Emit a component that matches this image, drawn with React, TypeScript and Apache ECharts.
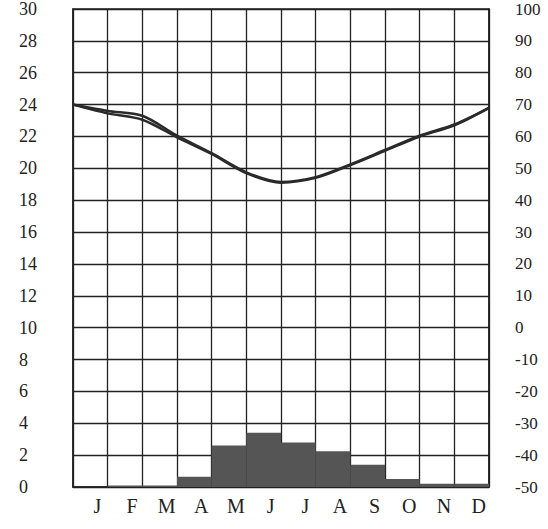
import React, { useEffect, useRef } from "react";
import * as echarts from "echarts";

const months = ["J", "F", "M", "A", "M", "J", "J", "A", "S", "O", "N", "D"];
const precipitation = [0, 0.1, 0.1, 0.65, 2.6, 3.4, 2.8, 2.25, 1.4, 0.5, 0.2, 0.2];
// temperature curve read at month boundaries (start of Jan ... end of Dec)
const tempLineA = [24.0, 23.45, 23.05, 21.95, 20.9, 19.7, 19.1, 19.4, 20.2, 21.1, 22.0, 22.7, 23.8];
const tempLineB = [24.0, 23.6, 23.3, 22.05, 20.95, 19.75, 19.15, 19.45, 20.25, 21.15, 22.05, 22.75, 23.8];
const leftAxis = { min: 0, max: 30, interval: 2 };
const rightAxis = { min: -50, max: 100, interval: 10 };

const ink = "#222222";
const font = "'Liberation Serif', 'DejaVu Serif', serif";

export default function App() {
  const ref = useRef<HTMLDivElement>(null);
  useEffect(() => {
    if (!ref.current) return;
    const chart = echarts.init(ref.current, null, { renderer: "svg" });
    chart.setOption({
      animation: false,
      backgroundColor: "#ffffff",
      grid: {
        left: 73,
        right: 59,
        top: 5,
        bottom: 42,
        show: true,
        borderColor: ink,
        borderWidth: 1.5,
      },
      xAxis: [
        {
          type: "category",
          data: months,
          boundaryGap: true,
          axisLine: { show: true, lineStyle: { color: ink, width: 1.5 } },
          axisTick: { show: false },
          splitLine: { show: true, lineStyle: { color: ink, width: 1.3 } },
          axisLabel: {
            color: ink,
            fontFamily: font,
            fontSize: 20,
            margin: 9,
            padding: [0, 0, 0, 14],
            interval: 0,
          },
        },
        {
          type: "value",
          min: 0,
          max: 12,
          show: false,
        },
      ],
      yAxis: [
        {
          type: "value",
          position: "left",
          min: leftAxis.min,
          max: leftAxis.max,
          interval: leftAxis.interval,
          axisLine: { show: true, lineStyle: { color: ink, width: 1.5 } },
          axisTick: { show: false },
          splitLine: { show: true, lineStyle: { color: ink, width: 1.3 } },
          axisLabel: {
            color: ink,
            fontFamily: font,
            fontSize: 18,
            align: "left",
            margin: 54,
          },
        },
        {
          type: "value",
          position: "right",
          min: rightAxis.min,
          max: rightAxis.max,
          interval: rightAxis.interval,
          axisLine: { show: true, lineStyle: { color: ink, width: 1.5 } },
          axisTick: { show: false },
          splitLine: { show: false },
          axisLabel: {
            color: ink,
            fontFamily: font,
            fontSize: 17,
            align: "left",
            margin: 26,
          },
        },
      ],
      series: [
        {
          type: "bar",
          xAxisIndex: 0,
          yAxisIndex: 0,
          data: precipitation,
          barWidth: "100%",
          barCategoryGap: "0%",
          itemStyle: { color: "#555555" },
          z: 1,
        },
        {
          type: "line",
          xAxisIndex: 1,
          yAxisIndex: 0,
          data: tempLineA.map((v, i) => [i, v]),
          smooth: 0.3,
          symbol: "none",
          lineStyle: { color: "#2a2a2a", width: 2.5 },
          z: 3,
        },
        {
          type: "line",
          xAxisIndex: 1,
          yAxisIndex: 0,
          data: tempLineB.map((v, i) => [i, v]),
          smooth: 0.3,
          symbol: "none",
          lineStyle: { color: "#2a2a2a", width: 2.5 },
          z: 3,
        },
      ],
    });
    return () => chart.dispose();
  }, []);
  return <div ref={ref} style={{ width: 548, height: 529, position: "absolute", left: 0, top: 0 }} />;
}
